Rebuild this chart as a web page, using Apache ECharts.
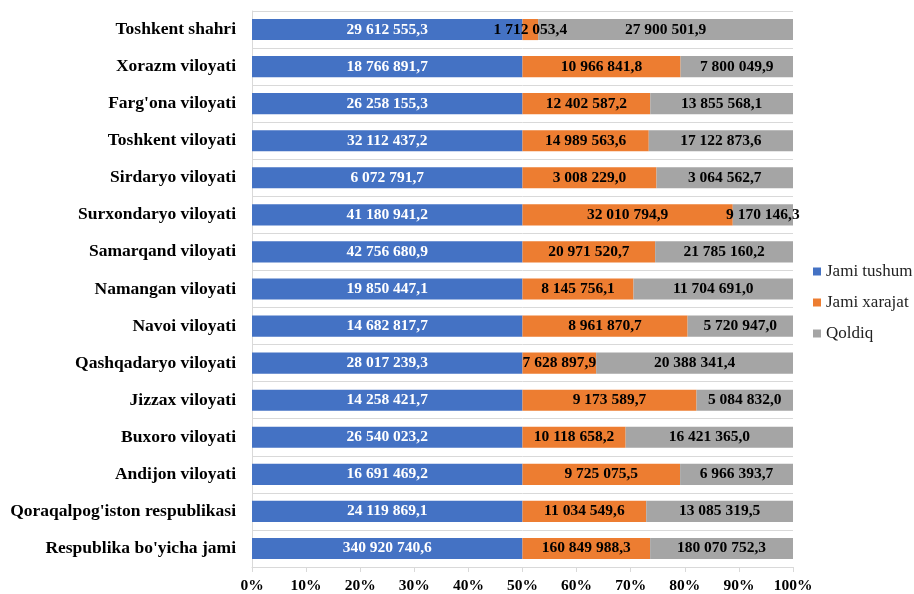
<!DOCTYPE html>
<html>
<head>
<meta charset="utf-8">
<script src="https://cdn.jsdelivr.net/npm/echarts@6/dist/echarts.min.js"></script>
<style>html,body{margin:0;padding:0;background:#fff}#c{width:914px;height:594px}</style>
</head>
<body>
<div id="c"></div>
<script>
// Top-to-bottom order as in the picture
var categories = [
  "Toshkent shahri", "Xorazm viloyati", "Farg'ona viloyati", "Toshkent viloyati",
  "Sirdaryo viloyati", "Surxondaryo viloyati", "Samarqand viloyati", "Namangan viloyati",
  "Navoi viloyati", "Qashqadaryo viloyati", "Jizzax viloyati", "Buxoro viloyati",
  "Andijon viloyati", "Qoraqalpog'iston respublikasi", "Respublika bo'yicha jami"
];
var jamiTushum = [
  29612555.3, 18766891.7, 26258155.3, 32112437.2, 6072791.7, 41180941.2, 42756680.9,
  19850447.1, 14682817.7, 28017239.3, 14258421.7, 26540023.2, 16691469.2, 24119869.1, 340920740.6
];
var jamiXarajat = [
  1712053.4, 10966841.8, 12402587.2, 14989563.6, 3008229.0, 32010794.9, 20971520.7,
  8145756.1, 8961870.7, 7628897.9, 9173589.7, 10118658.2, 9725075.5, 11034549.6, 160849988.3
];
var qoldiq = [
  27900501.9, 7800049.9, 13855568.1, 17122873.6, 3064562.7, 9170146.3, 21785160.2,
  11704691.0, 5720947.0, 20388341.4, 5084832.0, 16421365.0, 6966393.7, 13085319.5, 180070752.3
];
var xTicks = [0, 10, 20, 30, 40, 50, 60, 70, 80, 90, 100];

function fmt(v) {
  var s = v.toFixed(1).split('.');
  return s[0].replace(/\B(?=(\d{3})+(?!\d))/g, ' ') + ',' + s[1];
}
var totals = categories.map(function (c, i) { return jamiTushum[i] + jamiXarajat[i] + qoldiq[i]; });
function pct(arr) {
  return arr.map(function (v, i) { return { value: v / totals[i] * 100, raw: v }; });
}
var FONT = '"Liberation Serif", "Times New Roman", serif';
function mk(name, arr, color, labelColor) {
  return {
    name: name, type: 'bar', stack: 'total', data: pct(arr), barCategoryGap: '43%',
    itemStyle: { color: color },
    label: {
      show: true, position: 'inside', color: labelColor, fontFamily: FONT,
      fontWeight: 'bold', fontSize: 15.5,
      formatter: function (p) { return fmt(p.data.raw); }
    }
  };
}
var chart = echarts.init(document.getElementById('c'));
chart.setOption({
  animation: false,
  textStyle: { fontFamily: FONT },
  grid: { left: 252, right: 121, top: 11, bottom: 25, containLabel: false },
  legend: {
    orient: 'vertical', left: 808, top: 258, itemGap: 14, itemWidth: 8, itemHeight: 8,
    icon: 'rect',
    textStyle: { fontFamily: FONT, fontSize: 17, color: '#222' },
    data: ['Jami tushum', 'Jami xarajat', 'Qoldiq']
  },
  xAxis: {
    type: 'value', min: xTicks[0], max: xTicks[xTicks.length - 1], interval: 10,
    axisLine: { show: true, lineStyle: { color: '#d9d9d9' } },
    axisTick: { show: true, length: 5, lineStyle: { color: '#d9d9d9' } },
    splitLine: { show: false },
    axisLabel: {
      formatter: function (v) { return v + '%'; }, color: '#000', fontWeight: 'bold',
      fontSize: 15.5, fontFamily: FONT, margin: 11
    }
  },
  yAxis: {
    type: 'category', data: categories, inverse: true,
    axisLine: { show: true, lineStyle: { color: '#d9d9d9' } },
    axisTick: { show: false },
    splitLine: { show: true, lineStyle: { color: '#d9d9d9', width: 1 } },
    axisLabel: { color: '#000', fontWeight: 'bold', fontSize: 17.5, fontFamily: FONT, margin: 16 }
  },
  series: [
    mk('Jami tushum', jamiTushum, '#4472C4', '#fff'),
    mk('Jami xarajat', jamiXarajat, '#ED7D31', '#000'),
    mk('Qoldiq', qoldiq, '#A5A5A5', '#000')
  ]
});
</script>
</body>
</html>
